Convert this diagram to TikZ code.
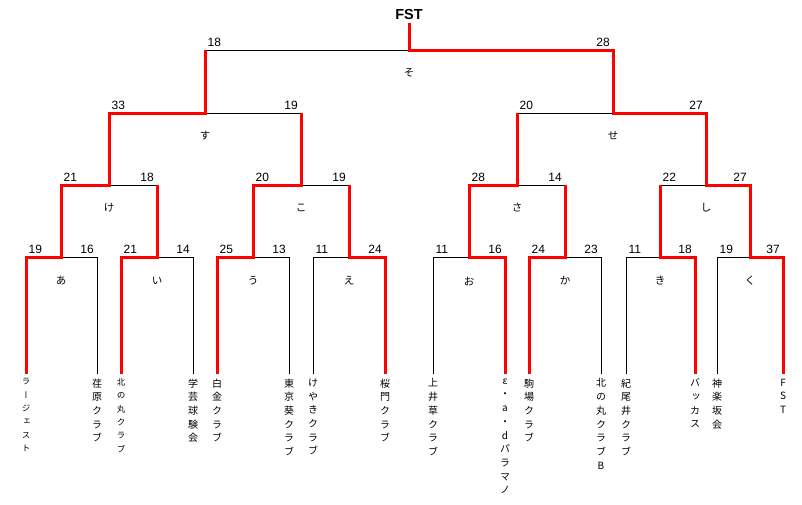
\documentclass[tikz,border=0pt]{standalone}
\usepackage{fontspec}
\setmainfont{Liberation Sans}
\newfontfamily\jp{Noto Sans CJK JP}
\newfontfamily\jpv[RawFeature=+vert]{Noto Sans CJK JP}
\tikzset{
  win/.style={red,line width=3pt},
  losing/.style={black,line width=1pt},
  sleft/.style={anchor=base west,xshift=2.5pt,yshift=4pt,inner sep=0pt,font=\fontsize{12}{12}\selectfont},
  sright/.style={anchor=base east,xshift=-3pt,yshift=4pt,inner sep=0pt,font=\fontsize{12}{12}\selectfont},
  kana/.style={inner sep=0pt,font=\jp\fontsize{10.5}{10.5}\selectfont},
  team/.style={anchor=north,yshift=-4.5pt,inner sep=0pt,align=center,font=\jpv\fontsize{10}{13.7}\selectfont},
  teamsm/.style={team,font=\jpv\fontsize{8.5}{13.3}\selectfont}
}

\begin{document}
\begin{tikzpicture}[x=1pt,y=-1pt]
\useasboundingbox (0,0) rectangle (802,504);
% leaves
\foreach \x [count=\i] in {26,97,121,193,217,289,313,385,433,505,529,601,626,695,717,783}{
  \coordinate (T\i) at (\x,257);
  \coordinate (b\i) at (\x,374);
}
% rounds
\foreach \x [count=\i] in {61,157,253,349,469,565,660,750}{
  \coordinate (m\i) at (\x,257);
  \coordinate (p\i) at (\x,185);
}
\foreach \x [count=\i] in {109,301,517,706}{
  \coordinate (n\i) at (\x,185);
  \coordinate (q\i) at (\x,113);
}
\coordinate (o1) at (205,113); \coordinate (r1) at (205,50);
\coordinate (o2) at (613,113); \coordinate (r2) at (613,50);
\coordinate (f) at (409,50);   \coordinate (top) at (409,23);

% black
\foreach \i in {2,4,6,7,9,12,13,15}{\draw[losing] (b\i) -- (T\i);}
\draw[losing] (T1)--(T2) (T3)--(T4) (T5)--(T6) (T7)--(T8) (T9)--(T10) (T11)--(T12) (T13)--(T14) (T15)--(T16);
\draw[losing] (p1)--(p2) (p3)--(p4) (p5)--(p6) (p7)--(p8) (q1)--(q2) (q3)--(q4) (r1)--(r2);

% red
\draw[win] (b1)--(T1)--(m1)--(p1)--(n1)--(q1)--(o1)--(r1);
\draw[win] (b3)--(T3)--(m2)--(p2);
\draw[win] (b5)--(T5)--(m3)--(p3)--(n2)--(q2);
\draw[win] (b8)--(T8)--(m4)--(p4);
\draw[win] (b10)--(T10)--(m5)--(p5)--(n3)--(q3);
\draw[win] (b11)--(T11)--(m6)--(p6);
\draw[win] (b14)--(T14)--(m7)--(p7);
\draw[win] (b16)--(T16)--(m8)--(p8)--(n4)--(q4)--(o2)--(r2)--(f)--(top);

% scores
\foreach \c/\s [count=\k] in {T1/19,T3/21,T5/25,T7/11,T9/11,T11/24,T13/11,T15/19,p1/21,p3/20,p5/28,p7/22,q1/33,q3/20,r1/18}
  {\node[sleft] (sl\k) at (\c) {\s};}
\foreach \c/\s [count=\k] in {T2/16,T4/14,T6/13,T8/24,T10/16,T12/23,T14/18,T16/37,p2/18,p4/19,p6/14,p8/27,q2/19,q4/27,r2/28}
  {\node[sright] (sr\k) at (\c) {\s};}

% match names
\foreach \c/\t [count=\k] in {m1/あ,m2/い,m3/う,m4/え,m5/お,m6/か,m7/き,m8/く}
  {\node[kana,yshift=-24pt] (ka\k) at (\c) {\t};}
\foreach \c/\t [count=\k] in {n1/け,n2/こ,n3/さ,n4/し,o1/す,o2/せ,f/そ}
  {\node[kana,yshift=-23pt] (kb\k) at (\c) {\t};}

\node[anchor=base,inner sep=0pt,font=\bfseries\fontsize{14.5}{14.5}\selectfont] (champ) at (409,19) {FST};

% teams
\node[teamsm] (tm1) at (b1) {ラ\\ー\\ジ\\ェ\\ス\\ト};
\node[team] (tm2) at (b2) {荏\\原\\ク\\ラ\\ブ};
\node[teamsm] (tm3) at (b3) {北\\の\\丸\\ク\\ラ\\ブ};
\node[team] (tm4) at (b4) {学\\芸\\球\\験\\会};
\node[team] (tm5) at (b5) {白\\金\\ク\\ラ\\ブ};
\node[team] (tm6) at (b6) {東\\京\\葵\\ク\\ラ\\ブ};
\node[team] (tm7) at (b7) {け\\や\\き\\ク\\ラ\\ブ};
\node[team] (tm8) at (b8) {桜\\門\\ク\\ラ\\ブ};
\node[team] (tm9) at (b9) {上\\井\\草\\ク\\ラ\\ブ};
\node[team] (tm10) at (b10) {ε\\・\\a\\・\\d\\パ\\ラ\\マ\\ノ};
\node[team] (tm11) at (b11) {駒\\場\\ク\\ラ\\ブ};
\node[team] (tm12) at (b12) {北\\の\\丸\\ク\\ラ\\ブ\\B};
\node[team] (tm13) at (b13) {紀\\尾\\井\\ク\\ラ\\ブ};
\node[team] (tm14) at (b14) {バ\\ッ\\カ\\ス};
\node[team] (tm15) at (b15) {神\\楽\\坂\\会};
\node[team] (tm16) at (b16) {F\\S\\T};
\end{tikzpicture}
\end{document}
